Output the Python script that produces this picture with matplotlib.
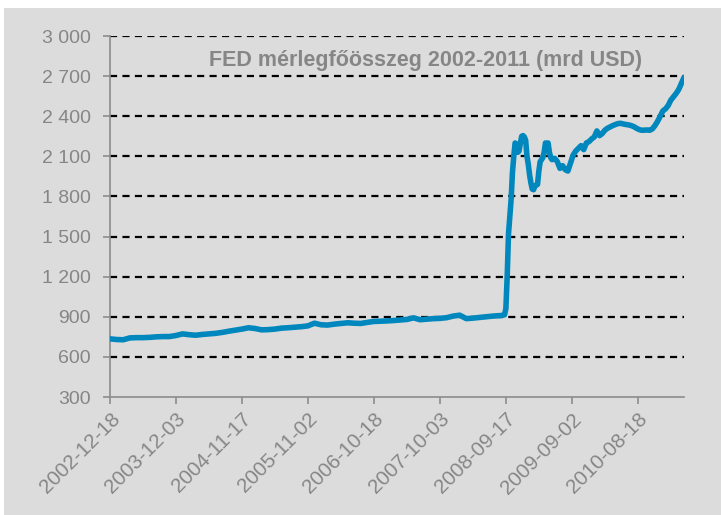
import pandas as pd
import matplotlib
matplotlib.use("Agg")
import matplotlib.pyplot as plt
import matplotlib.dates as mdates
from matplotlib.patches import Rectangle
from matplotlib.ticker import FuncFormatter

# weekly FED balance sheet total (mrd USD)
# pre-crisis: every 5 weeks from 2002-12-18
pre_values = [735, 730, 728, 742, 744, 744, 746, 750, 752, 752,
              760, 772, 766, 762, 768, 772, 776, 783, 792, 800,
              808, 818, 812, 802, 804, 808, 815, 818, 822, 826,
              832, 852, 840, 838, 845, 850, 855, 852, 850, 858,
              865, 867, 869, 872, 876, 880, 892, 878, 882, 886,
              888, 893, 905, 912, 886, 890, 895, 900, 905, 908]
# crisis: weekly from 2008-08-20
crisis_values = [908, 910, 912, 915, 960, 1200, 1520, 1650, 1780, 1980,
                 2100, 2200, 2190, 2130, 2140, 2200, 2250, 2255, 2245, 2220,
                 2100, 2040, 1960, 1900, 1855, 1850, 1880, 1885, 1890, 1990,
                 2060, 2075, 2090, 2130, 2200, 2190, 2200, 2130, 2090, 2075]
# after: every 2 weeks from 2009-06-03
post_values = [2085, 2060, 2010, 2030, 2000, 1990, 2050, 2110, 2140, 2160,
               2180, 2150, 2200, 2210, 2230, 2245, 2290, 2255, 2270, 2295,
               2310, 2320, 2330, 2338, 2345, 2347, 2342, 2338, 2335, 2330,
               2322, 2310, 2300, 2295, 2296, 2297, 2295, 2305, 2330, 2362,
               2400, 2440, 2455, 2480, 2520, 2545, 2570, 2600, 2645, 2690]

pre_dates = pd.date_range("2002-12-18", periods=len(pre_values), freq="35D")
crisis_dates = pd.date_range("2008-08-20", periods=len(crisis_values), freq="7D")
post_dates = pd.date_range("2009-06-03", periods=len(post_values), freq="14D")

dates = pre_dates.append(crisis_dates).append(post_dates)
values = pre_values + crisis_values + post_values

tick_dates = pd.date_range("2002-12-18", periods=9, freq="350D")
y_ticks = list(range(300, 3001, 300))

title = "FED mérlegfőösszeg 2002-2011 (mrd USD)"

plt.rcParams['font.family'] = ['Liberation Sans', 'DejaVu Sans']
grey_txt = '#868686'
bg = '#DCDCDC'

fig = plt.figure(figsize=(7.21, 5.15), dpi=100, facecolor='white')
fig.patches.append(Rectangle((4 / 721, 0), 1, 1 - 8 / 515, transform=fig.transFigure,
                             facecolor=bg, edgecolor='none', zorder=-10))
ax = fig.add_axes([110 / 721, 1 - 397 / 515, 574 / 721, 361 / 515])
ax.set_facecolor('none')

ax.plot(dates, values, color='#0087BD', linewidth=4, solid_capstyle='round',
        solid_joinstyle='round', zorder=3)

ax.set_ylim(300, 3000)
ax.set_yticks(y_ticks)
ax.yaxis.set_major_formatter(FuncFormatter(lambda v, p: f"{int(v):,}".replace(",", " ")))
ax.set_xlim(dates[0], dates[-1])
ax.set_xticks(tick_dates)
ax.xaxis.set_major_formatter(mdates.DateFormatter('%Y-%m-%d'))

# dashed horizontal gridlines
for v in y_ticks[1:]:
    ax.axhline(v, color='black', linestyle=(0, (3.2, 2.4)), linewidth=1.6, zorder=1)

for s in ['top', 'right']:
    ax.spines[s].set_visible(False)
for s in ['left', 'bottom']:
    ax.spines[s].set_color('#8C8C8C')
    ax.spines[s].set_linewidth(1.2)

ax.tick_params(axis='y', colors='#8C8C8C', labelcolor=grey_txt, labelsize=14,
               length=5, width=1.2, pad=9)
ax.tick_params(axis='x', colors='#8C8C8C', labelcolor=grey_txt, labelsize=14.8,
               length=5, width=1.2, pad=4)
for lbl in ax.get_xticklabels():
    lbl.set_rotation(45)
    lbl.set_ha('right')
    lbl.set_va('top')
    lbl.set_rotation_mode('anchor')

ax.text(0.549, 0.933, title, transform=ax.transAxes, ha='center', va='center',
        fontsize=15.5, fontweight='bold', color=grey_txt)

fig.savefig("out.png", dpi=100, facecolor=fig.get_facecolor())
